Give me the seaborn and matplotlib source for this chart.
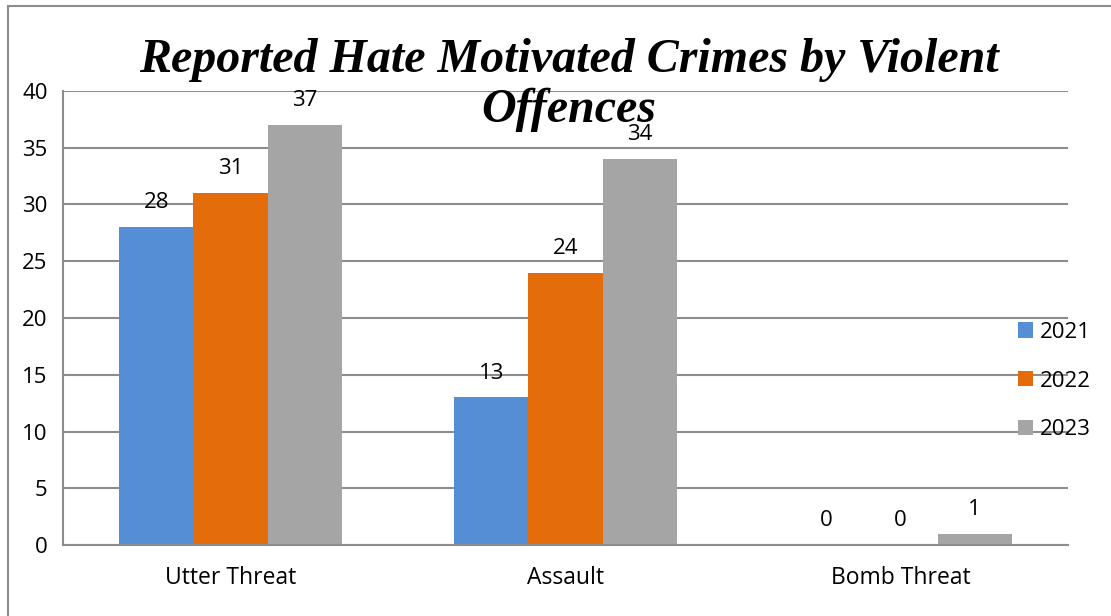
import pandas as pd
import matplotlib.pyplot as plt
import seaborn as sns
from matplotlib.patches import Rectangle, Patch


# DATA
offences = ['Utter Threat', 'Assault', 'Bomb Threat']
years = ['2021', '2022', '2023']
counts_2021 = [28, 13, 0]
counts_2022 = [31, 24, 0]
counts_2023 = [37, 34, 1]
colors = ['#558ED5', '#E46C0A', '#A5A5A5']

rows = []
for year, vals in zip(years, [counts_2021, counts_2022, counts_2023]):
    for off, v in zip(offences, vals):
        rows.append({'offence': off, 'year': year, 'count': v})
df = pd.DataFrame(rows)


# PLOT
sns.set_style("white")
plt.rcParams['font.family'] = ['Open Sans', 'DejaVu Sans']
plt.rcParams['text.color'] = 'black'
plt.rcParams['xtick.color'] = 'black'
plt.rcParams['ytick.color'] = 'black'

fig = plt.figure(figsize=(11.11, 6.16), dpi=100)
ax = fig.add_axes([63 / 1111, 71 / 616, 1005 / 1111, 454 / 616])

sns.barplot(data=df, x='offence', y='count', hue='year', order=offences,
            hue_order=years, palette=colors, width=0.663, saturation=1,
            edgecolor='none', linewidth=0, legend=False, ax=ax)

ax.set_ylim(0, 40)
ax.set_xlim(-0.5, 2.5)
ax.set_yticks(range(0, 41, 5))
ax.set_xlabel('')
ax.set_ylabel('')
ax.yaxis.grid(True, color='#8C8C8C', linewidth=1.5)
ax.set_axisbelow(True)

for side in ['top', 'right']:
    ax.spines[side].set_visible(False)
for side in ['left', 'bottom']:
    ax.spines[side].set_color('#8C8C8C')
    ax.spines[side].set_linewidth(1.5)

ax.tick_params(axis='y', length=6, width=1.5, color='#8C8C8C', labelsize=16, pad=5)
ax.tick_params(axis='x', which='major', length=0, labelsize=16.5, pad=15)
ax.set_xticks([-0.5, 0.5, 1.5, 2.5], minor=True)
ax.tick_params(axis='x', which='minor', length=7, width=1.5, color='#8C8C8C')

# data labels
for cont in ax.containers:
    ax.bar_label(cont, fmt='%d', padding=10, fontsize=16)

# legend
handles = [Patch(facecolor=c, edgecolor='none') for c in colors]
fig.legend(handles, years, loc='center left', bbox_to_anchor=(1007 / 1111, 1 - 381 / 616),
           frameon=False, fontsize=16, handlelength=0.68, handleheight=0.68,
           handletextpad=0.3, labelspacing=1.25, borderpad=0)

# title
fig.text(569 / 1111, 1 - 85 / 616, 'Reported Hate Motivated Crimes by Violent\nOffences',
         ha='center', va='center', fontsize=34.6, fontweight='bold', fontstyle='italic',
         family='Liberation Serif', linespacing=1.19, color='black')

# chart border
fig.patches.append(Rectangle((8 / 1111, -0.1), 1.2, (616 - 6) / 616 + 0.1,
                             transform=fig.transFigure, fill=False,
                             edgecolor='#8C8C8C', linewidth=1.5))

plt.savefig('out.png', dpi=100)
